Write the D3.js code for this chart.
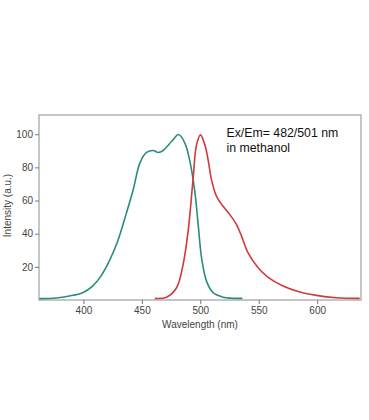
<!DOCTYPE html>
<html><head><meta charset="utf-8">
<script src="https://cdn.jsdelivr.net/npm/d3@7"></script>
<style>body{margin:0;background:#fff;} svg{display:block;font-family:"Liberation Sans",Arial,sans-serif;}</style>
</head><body>
<script>
const exWavelength = [362.3,376.5,387.9,399.3,407.9,415,422.1,429.3,436.4,442.6,448.3,454,459.7,464,468.2,475.4,481.5,486.8,491.1,495.3,498.2,501.1,505.3,511,519.5,527,536];
const exIntensity  = [0.8,1.2,2.4,4.4,8.4,14.4,23.4,35.4,51.5,66.5,82.6,89,90.2,89,90.2,95.6,99.8,94.6,83.6,65.5,45.5,25.4,11.4,4.4,1.7,1.1,1];
const emWavelength = [461.1,471.1,479.7,485.3,489.6,493.9,496.8,500.2,503.9,506.7,509.6,513.9,519.5,525.3,531,535.3,540.9,549.5,557.5,570.8,585.1,599.3,616.4,636.4];
const emIntensity  = [1,1.7,7.4,21.4,41.5,73.5,93.6,99.6,93.6,84.6,72.5,62.5,56.5,51.5,45.5,38.5,28.4,19.4,14,8.4,4.8,2.8,1.4,1];
const xTicks = [400,450,500,550,600];
const yTicks = [20,40,60,80,100];
const annotation = ["Ex/Em= 482/501 nm","in methanol"];

const W=369,H=420;
const m={left:39,top:115,right:361,bottom:300};
const svg=d3.select("body").append("svg").attr("width",W).attr("height",H);
const x=d3.scaleLinear().domain([362,637.5]).range([m.left,m.right]);
const y=d3.scaleLinear().domain([0,111.6]).range([m.bottom,m.top]);

svg.append("rect").attr("x",m.left).attr("y",m.top).attr("width",m.right-m.left).attr("height",m.bottom-m.top)
  .attr("fill","none").attr("stroke","#a0a0a0").attr("stroke-width",1.2);

const xa=svg.append("g").attr("transform",`translate(0,${m.bottom})`)
  .call(d3.axisBottom(x).tickValues(xTicks).tickSize(4).tickPadding(3).tickFormat(d3.format("d")));
const ya=svg.append("g").attr("transform",`translate(${m.left},0)`)
  .call(d3.axisLeft(y).tickValues(yTicks).tickSize(4).tickPadding(2).tickFormat(d3.format("d")));
[xa,ya].forEach(g=>{g.select(".domain").remove();
  g.selectAll("line").attr("stroke","#777");
  g.selectAll("text").attr("fill","#444").style("font-size","10px").style("font-family","'Liberation Sans',Arial,sans-serif");});

svg.append("text").attr("x",(m.left+m.right)/2).attr("y",328).attr("text-anchor","middle")
  .attr("fill","#444").style("font-size","10px").text("Wavelength (nm)");
svg.append("text").attr("transform",`translate(11,${(m.top+m.bottom)/2-2}) rotate(-90)`).attr("text-anchor","middle")
  .attr("fill","#444").style("font-size","10px").text("Intensity (a.u.)");

const line=(xs,ys)=>d3.line().x((d,i)=>x(xs[i])).y((d,i)=>y(ys[i])).curve(d3.curveCatmullRom.alpha(0.5))(xs);
svg.append("path").attr("d",line(exWavelength,exIntensity)).attr("fill","none").attr("stroke","#2a8c7c").attr("stroke-width",1.6);
svg.append("path").attr("d",line(emWavelength,emIntensity)).attr("fill","none").attr("stroke","#d23a3a").attr("stroke-width",1.6);

svg.append("g").selectAll("text").data(annotation).join("text")
  .attr("x",226.5).attr("y",(d,i)=>136.5+i*15).attr("fill","#111").style("font-size","12.3px").text(d=>d);
</script>
</body></html>
